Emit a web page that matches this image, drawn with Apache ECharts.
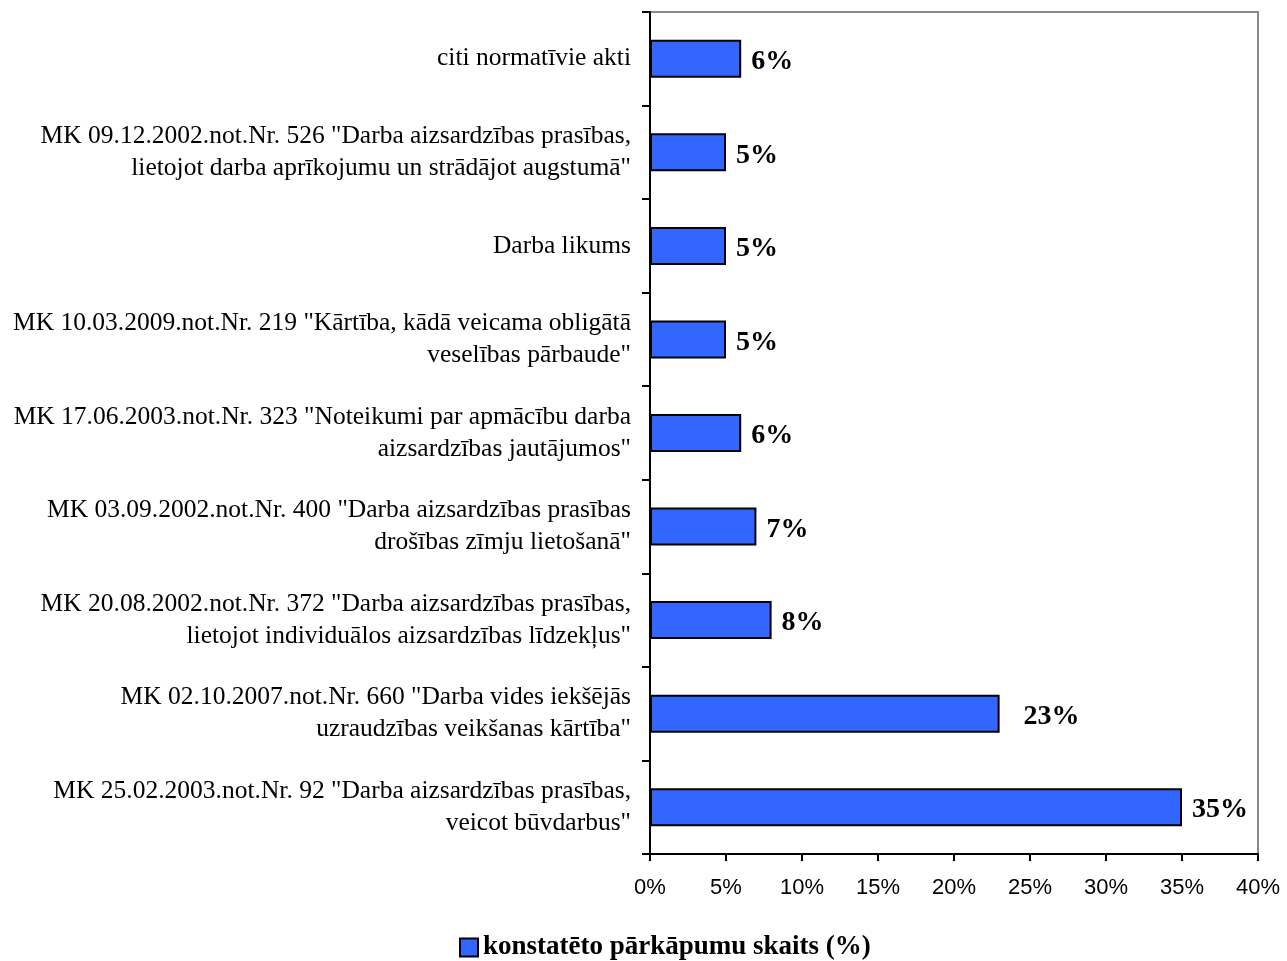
<!DOCTYPE html>
<html><head><meta charset="utf-8">
<script src="https://cdn.jsdelivr.net/npm/echarts@6/dist/echarts.min.js"></script>
<style>html,body{margin:0;padding:0;background:#fff}#c{width:1287px;height:961px}</style>
</head><body><div id="c"></div>
<script>
const categories = [
  'citi normatīvie akti',
  'MK 09.12.2002.not.Nr. 526 "Darba aizsardzības prasības,\nlietojot darba aprīkojumu un strādājot augstumā"',
  'Darba likums',
  'MK 10.03.2009.not.Nr. 219 "Kārtība, kādā veicama obligātā\nveselības pārbaude"',
  'MK 17.06.2003.not.Nr. 323 "Noteikumi par apmācību darba\naizsardzības jautājumos"',
  'MK 03.09.2002.not.Nr. 400 "Darba aizsardzības prasības\ndrošības zīmju lietošanā"',
  'MK 20.08.2002.not.Nr. 372 "Darba aizsardzības prasības,\nlietojot individuālos aizsardzības līdzekļus"',
  'MK 02.10.2007.not.Nr. 660 "Darba vides iekšējās\nuzraudzības veikšanas kārtība"',
  'MK 25.02.2003.not.Nr. 92 "Darba aizsardzības prasības,\nveicot būvdarbus"'
];
const values = [6, 5, 5, 5, 6, 7, 8, 23, 35];
const seriesName = 'konstatēto pārkāpumu skaits (%)';
const xTicks = { min: 0, max: 40, interval: 5 };

const chart = echarts.init(document.getElementById('c'));
const serif = '"Liberation Serif","Times New Roman",serif';
chart.setOption({
  animation: false,
  grid: { left: 650, right: 29, top: 12, bottom: 107, show: true, borderColor: '#888', borderWidth: 2 },
  xAxis: {
    type: 'value', min: xTicks.min, max: xTicks.max, interval: xTicks.interval,
    axisLine: { show: true, lineStyle: { color: '#000', width: 2 } },
    axisTick: { show: true, length: 7, lineStyle: { color: '#000', width: 2 } },
    splitLine: { show: false },
    axisLabel: { formatter: '{value}%', color: '#000', fontFamily: '"Liberation Sans",Arial,sans-serif', fontSize: 22, margin: 23 }
  },
  yAxis: {
    type: 'category', data: categories, inverse: true,
    axisLine: { show: true, lineStyle: { color: '#000', width: 2 } },
    axisTick: { show: true, length: 8, lineStyle: { color: '#000', width: 2 } },
    axisLabel: { color: '#000', fontFamily: serif, fontSize: 25.5, lineHeight: 32, margin: 19, align: 'right' }
  },
  legend: {
    top: 929, left: 454, itemWidth: 18, itemHeight: 18, itemGap: 8,
    textStyle: { fontFamily: serif, fontSize: 27, fontWeight: 'bold', color: '#000' },
    data: [{ name: seriesName, icon: 'rect' }]
  },
  series: [{
    name: seriesName, type: 'bar', barWidth: 38,
    itemStyle: { color: '#3366FF', borderColor: '#000', borderWidth: 2 },
    label: { show: true, position: 'right', distance: 10, formatter: '{c}%', color: '#000',
      fontFamily: serif, fontSize: 28, fontWeight: 'bold', offset: [0, 3] },
    data: values.map((v, i) => i === 7 ? { value: v, label: { distance: 24 } } : v)
  }]
});
</script></body></html>
